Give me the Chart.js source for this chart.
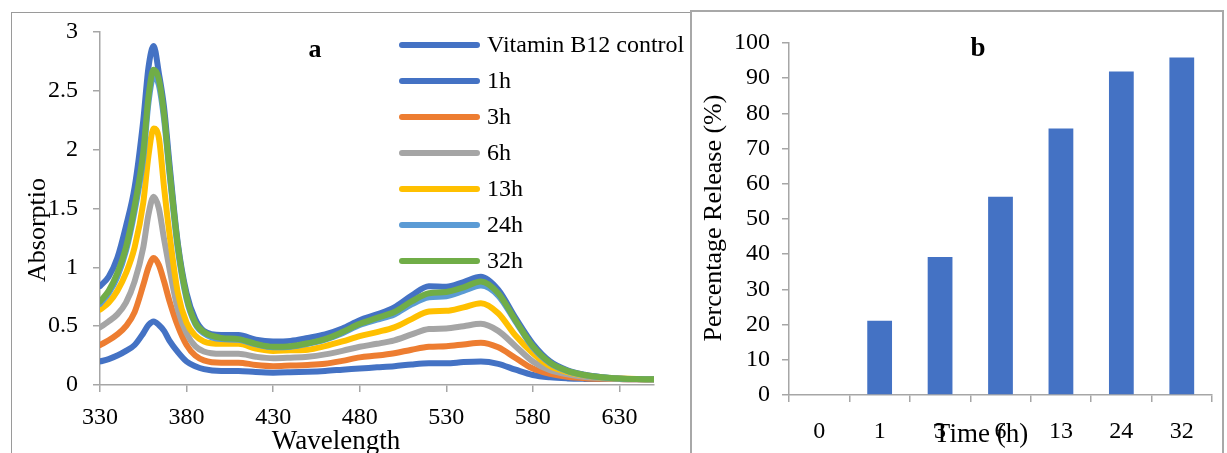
<!DOCTYPE html>
<html><head><meta charset="utf-8">
<script src="https://cdn.jsdelivr.net/npm/chart.js@4.4.0/dist/chart.umd.min.js"></script>
<style>
html,body{margin:0;padding:0;width:1227px;height:453px;overflow:hidden;background:#fff;}
#frameA{position:absolute;left:11px;top:12px;width:678px;height:470px;border:1px solid #9a9a9a;}
#frameB{position:absolute;left:690px;top:10px;width:530px;height:470px;border:2px solid #a8a8a8;}
#wa{position:absolute;left:0;top:0;width:690px;height:453px;}
#wb{position:absolute;left:691px;top:0;width:536px;height:453px;}
</style></head><body>
<div id="frameA"></div><div id="frameB"></div>
<div id="wa"><canvas id="ca"></canvas></div>
<div id="wb"><canvas id="cb"></canvas></div>
<script>
// ---------- Panel a data ----------
const wavelengths = [330,335,340,345,350,355,358,361,364,367,370,375,380,385,390,400,410,420,430,440,450,460,470,480,490,500,510,520,530,540,550,560,570,580,590,600,610,620,630,640,650];
const wavelengthTicks = [330,380,430,480,530,580,630];
const absorbanceTicks = [0,0.5,1,1.5,2,2.5,3];
const seriesNames = ['Vitamin B12 control','1h','3h','6h','13h','24h','32h'];
const seriesColors = ['#4472C4','#4472C4','#ED7D31','#A5A5A5','#FFC000','#5B9BD5','#70AD47'];
const controlB12 = [0.84,0.92,1.08,1.35,1.68,2.25,2.70,2.88,2.65,2.36,1.90,1.20,0.78,0.56,0.46,0.425,0.425,0.385,0.37,0.375,0.40,0.43,0.48,0.55,0.60,0.66,0.76,0.84,0.835,0.875,0.92,0.81,0.57,0.35,0.20,0.125,0.088,0.067,0.056,0.050,0.048];
const h1 = [0.20,0.22,0.25,0.29,0.34,0.44,0.51,0.54,0.51,0.46,0.38,0.28,0.20,0.16,0.135,0.12,0.12,0.11,0.105,0.108,0.113,0.12,0.13,0.14,0.15,0.16,0.175,0.184,0.184,0.195,0.20,0.18,0.13,0.085,0.065,0.056,0.052,0.05,0.05,0.048,0.048];
const h3 = [0.34,0.38,0.43,0.50,0.62,0.85,1.00,1.08,1.02,0.88,0.72,0.50,0.34,0.25,0.21,0.19,0.19,0.17,0.16,0.165,0.17,0.18,0.205,0.235,0.25,0.27,0.30,0.325,0.33,0.345,0.36,0.32,0.23,0.14,0.095,0.07,0.058,0.053,0.05,0.048,0.048];
const h6 = [0.49,0.54,0.60,0.70,0.88,1.17,1.45,1.60,1.50,1.24,1.00,0.64,0.44,0.33,0.285,0.265,0.265,0.24,0.227,0.232,0.24,0.26,0.29,0.325,0.35,0.38,0.43,0.475,0.48,0.50,0.52,0.46,0.33,0.20,0.125,0.09,0.068,0.058,0.052,0.05,0.048];
const h13 = [0.64,0.70,0.80,0.95,1.17,1.55,1.95,2.18,2.10,1.68,1.30,0.78,0.53,0.42,0.37,0.35,0.35,0.31,0.29,0.295,0.30,0.33,0.37,0.415,0.45,0.49,0.56,0.625,0.63,0.66,0.695,0.61,0.42,0.27,0.16,0.11,0.08,0.062,0.055,0.05,0.048];
const h24 = [0.69,0.78,0.92,1.14,1.48,1.93,2.40,2.62,2.55,2.26,1.82,1.15,0.73,0.52,0.44,0.39,0.385,0.345,0.32,0.325,0.35,0.385,0.44,0.51,0.555,0.60,0.685,0.745,0.755,0.80,0.845,0.76,0.54,0.32,0.185,0.118,0.083,0.063,0.054,0.05,0.048];
const h32 = [0.71,0.80,0.95,1.17,1.52,1.98,2.45,2.68,2.60,2.30,1.85,1.18,0.75,0.53,0.45,0.40,0.39,0.35,0.325,0.33,0.355,0.39,0.45,0.52,0.57,0.62,0.71,0.78,0.79,0.83,0.88,0.78,0.55,0.33,0.19,0.12,0.085,0.065,0.055,0.05,0.048];
const allSeries = [controlB12,h1,h3,h6,h13,h24,h32];

// ---------- Panel b data ----------
const timeLabels = ['0','1','3','6','13','24','32'];
const releaseValues = [0,21.1,39.2,56.3,75.7,91.9,95.9];
const releaseTicks = [0,10,20,30,40,50,60,70,80,90,100];

const serif = "'Liberation Serif','Times New Roman',serif";
const axisColor = '#a6a6a6';

function textPlugin(items){
  return {id:'txt', afterDraw(chart){
    const ctx = chart.ctx;
    items.forEach(it => {
      ctx.save();
      ctx.font = it.font; ctx.fillStyle = '#000';
      ctx.textAlign = 'center'; ctx.textBaseline = 'middle';
      ctx.translate(it.x, it.y);
      if (it.rot) ctx.rotate(it.rot);
      ctx.fillText(it.text, 0, 0);
      ctx.restore();
    });
  }};
}

const legendPlugin = {id:'lineLegend', afterDraw(chart){
  const ctx = chart.ctx;
  chart.data.datasets.forEach((ds, i) => {
    const y = 45 + 36 * i;
    ctx.save();
    ctx.strokeStyle = ds.borderColor; ctx.lineWidth = 6; ctx.lineCap = 'round';
    ctx.beginPath(); ctx.moveTo(402, y); ctx.lineTo(477, y); ctx.stroke();
    ctx.font = '24px ' + serif; ctx.fillStyle = '#000';
    ctx.textAlign = 'left'; ctx.textBaseline = 'middle';
    ctx.fillText(ds.label, 487, y + 1);
    ctx.restore();
  });
}};

new Chart(document.getElementById('ca'), {
  type: 'line',
  data: {
    datasets: allSeries.map((vals, i) => ({
      label: seriesNames[i],
      data: vals.map((v, j) => ({x: wavelengths[j], y: v})),
      borderColor: seriesColors[i],
      backgroundColor: seriesColors[i],
      order: allSeries.length - i
    }))
  },
  options: {
    responsive: true, maintainAspectRatio: false, animation: false,
    layout: {padding: {left: 0, right: 36, top: 32, bottom: 0}},
    plugins: {legend: {display: false}, tooltip: {enabled: false}, title: {display: false}},
    elements: {point: {radius: 0}, line: {borderWidth: 6, borderCapStyle: 'round', borderJoinStyle: 'round', cubicInterpolationMode: 'monotone'}},
    scales: {
      x: {
        type: 'linear', min: 330, max: 650,
        afterBuildTicks: s => { s.ticks = wavelengthTicks.map(v => ({value: v})); },
        afterFit: s => { s.height = 68; },
        grid: {drawOnChartArea: false, drawTicks: true, tickLength: 7, color: axisColor, lineWidth: 1.5},
        border: {color: axisColor, width: 1.5},
        ticks: {color: '#000', font: {family: serif, size: 24}, padding: 11, maxRotation: 0, autoSkip: false}
      },
      y: {
        min: 0, max: 3,
        afterBuildTicks: s => { s.ticks = absorbanceTicks.map(v => ({value: v})); },
        afterFit: s => { s.width = 100; },
        grid: {drawOnChartArea: false, drawTicks: true, tickLength: 7, color: axisColor, lineWidth: 1.5},
        border: {color: axisColor, width: 1.5},
        ticks: {color: '#000', font: {family: serif, size: 24}, padding: 15, callback: v => String(v)}
      }
    }
  },
  plugins: [legendPlugin, textPlugin([
    {text: 'a', x: 315, y: 50, font: 'bold 26px ' + serif},
    {text: 'Absorptio', x: 38, y: 230, font: '26px ' + serif, rot: -Math.PI / 2},
    {text: 'Wavelength', x: 336, y: 442, font: '27px ' + serif}
  ])]
});

new Chart(document.getElementById('cb'), {
  type: 'bar',
  data: {
    labels: timeLabels,
    datasets: [{label: 'Percentage Release (%)', data: releaseValues, backgroundColor: '#4472C4', barPercentage: 0.41, categoryPercentage: 1}]
  },
  options: {
    responsive: true, maintainAspectRatio: false, animation: false,
    layout: {padding: {left: 0, right: 15, top: 43, bottom: 0}},
    plugins: {legend: {display: false}, tooltip: {enabled: false}},
    scales: {
      x: {
        afterFit: s => { s.height = 58; },
        grid: {offset: true, drawOnChartArea: false, drawTicks: true, tickLength: 7, color: axisColor, lineWidth: 1.5},
        border: {color: axisColor, width: 1.5},
        ticks: {color: '#000', font: {family: serif, size: 24}, padding: 15, maxRotation: 0, autoSkip: false}
      },
      y: {
        min: 0, max: 100,
        afterBuildTicks: s => { s.ticks = releaseTicks.map(v => ({value: v})); },
        afterFit: s => { s.width = 98; },
        grid: {drawOnChartArea: false, drawTicks: true, tickLength: 7, color: axisColor, lineWidth: 1.5},
        border: {color: axisColor, width: 1.5},
        ticks: {color: '#000', font: {family: serif, size: 24}, padding: 12}
      }
    }
  },
  plugins: [textPlugin([
    {text: 'b', x: 978 - 691, y: 49, font: 'bold 27px ' + serif},
    {text: 'Percentage Release (%)', x: 714 - 691, y: 218, font: '26px ' + serif, rot: -Math.PI / 2},
    {text: 'Time (h)', x: 981 - 691, y: 435, font: '27px ' + serif}
  ])]
});
</script></body></html>
